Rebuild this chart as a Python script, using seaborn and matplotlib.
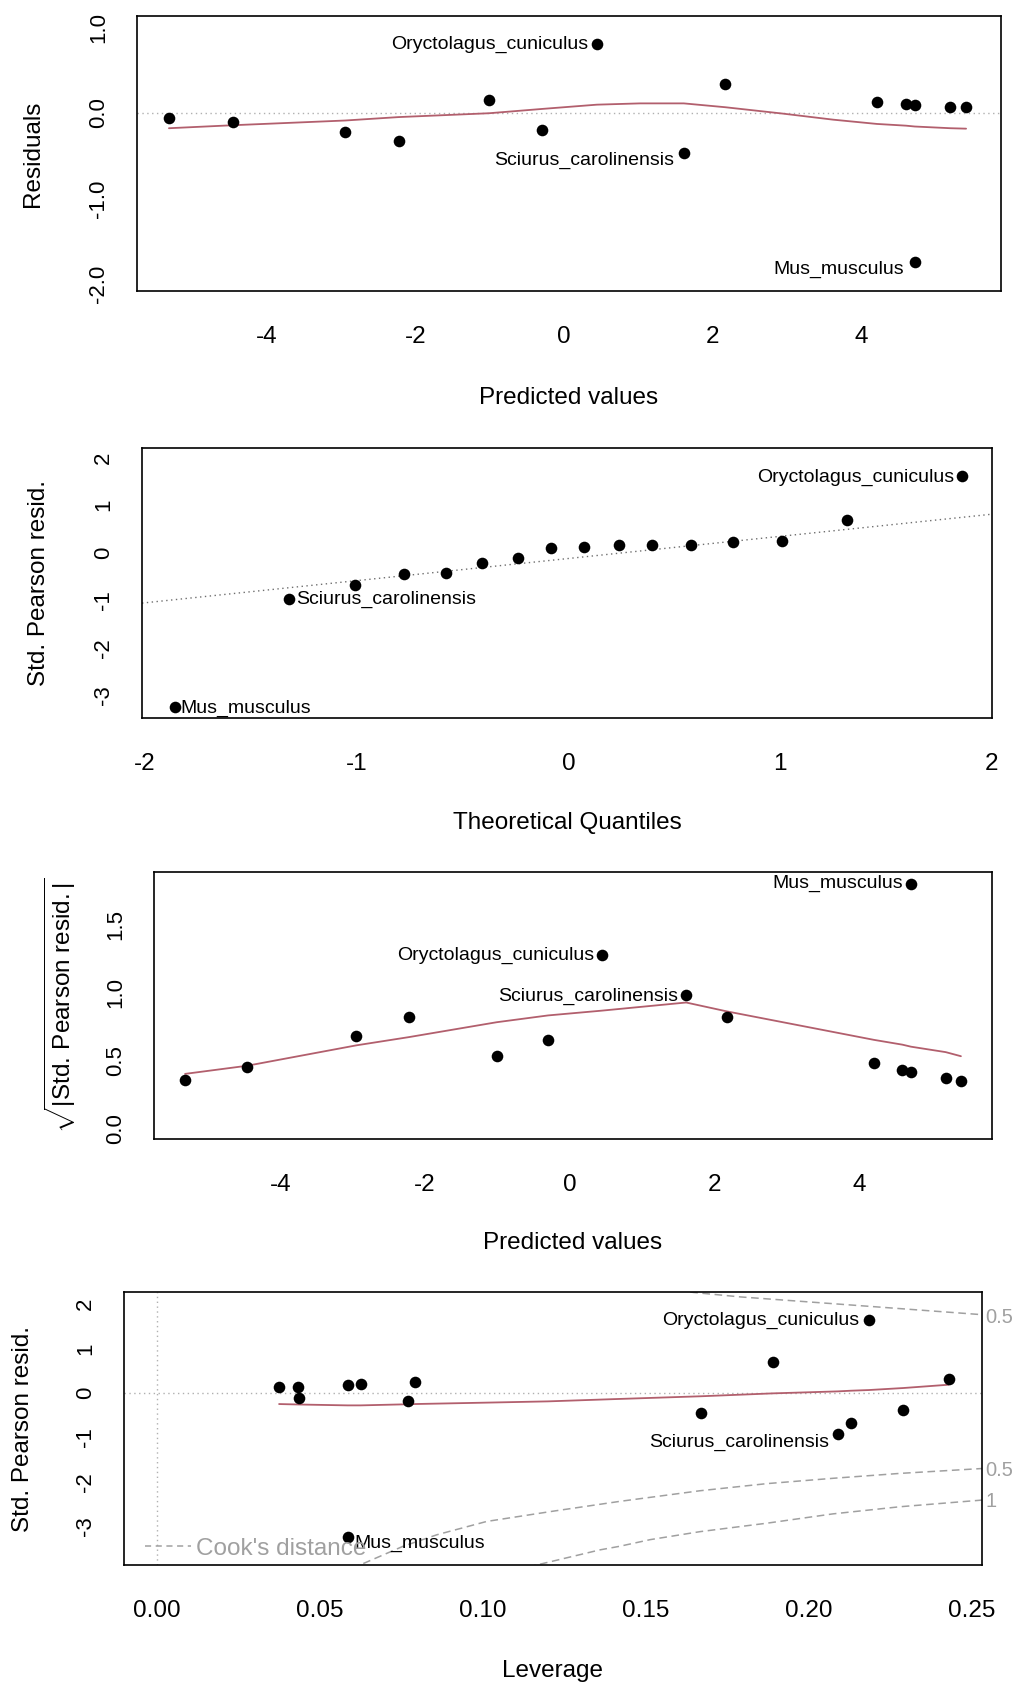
import matplotlib
matplotlib.use('Agg')
import matplotlib.pyplot as plt
import matplotlib.transforms as mtransforms
from matplotlib.lines import Line2D
import seaborn as sns

# ---- values ----
species = ['Oryctolagus_cuniculus', 'Sciurus_carolinensis', 'Mus_musculus']

# panel 1 / 3: residuals and scale-location against predicted values
predicted = [-5.32, -4.46, -2.95, -2.23, -1.01, -0.30, 0.44, 1.61, 2.17, 4.21, 4.60, 4.72, 4.72, 5.20, 5.41]
residuals = [-0.058, -0.109, -0.222, -0.331, 0.148, -0.204, 0.798, -0.475, 0.340, 0.122, 0.108, 0.086, -1.743, 0.068, 0.068]
sqrt_std_resid = [0.355, 0.453, 0.679, 0.821, 0.532, 0.647, 1.275, 0.980, 0.821, 0.478, 0.429, 0.414, 1.800, 0.370, 0.346]
pred_label_idx = [6, 7, 12]

smooth1_x = [-5.32, -4.46, -2.95, -2.23, -1.01, -0.30, 0.44, 1.02, 1.61, 2.17, 2.95, 3.62, 4.21, 4.60, 4.72, 5.20, 5.41]
smooth1_y = [-0.18, -0.145, -0.09, -0.05, -0.005, 0.045, 0.095, 0.11, 0.11, 0.065, -0.01, -0.08, -0.13, -0.15, -0.16, -0.18, -0.185]

smooth3_x = [-5.32, -4.46, -2.95, -2.23, -1.01, -0.30, 0.44, 1.61, 2.17, 4.21, 4.60, 4.72, 5.20, 5.41]
smooth3_y = [0.40, 0.46, 0.61, 0.67, 0.78, 0.83, 0.865, 0.925, 0.86, 0.65, 0.615, 0.60, 0.56, 0.53]

# panel 2: normal Q-Q
theoretical_q = [-1.861, -1.319, -1.010, -0.777, -0.580, -0.407, -0.240, -0.085, 0.075, 0.237, 0.394, 0.579, 0.776, 1.007, 1.313, 1.858]
sample_q = [-3.245, -0.965, -0.678, -0.448, -0.425, -0.224, -0.115, 0.105, 0.126, 0.156, 0.154, 0.154, 0.224, 0.252, 0.678, 1.608]
qq_label_idx = [15, 1, 0]
qq_line_x = [-2.0, 2.0]
qq_line_y = [-1.05, 0.81]

# panel 4: residuals vs leverage
leverage = [0.0376, 0.0434, 0.0438, 0.0586, 0.0626, 0.0770, 0.0792, 0.0588, 0.167, 0.189, 0.209, 0.213, 0.2185, 0.229, 0.243]
std_resid = [0.142, 0.142, -0.105, 0.172, 0.202, -0.172, 0.240, -3.230, -0.457, 0.689, -0.930, -0.667, 1.635, -0.386, 0.315]
lev_label_idx = [12, 10, 7]

smooth4_x = [0.0376, 0.0434, 0.0586, 0.0626, 0.077, 0.0792, 0.10, 0.12, 0.14, 0.167, 0.189, 0.209, 0.213, 0.2185, 0.229, 0.243]
smooth4_y = [-0.25, -0.26, -0.28, -0.28, -0.255, -0.25, -0.22, -0.19, -0.14, -0.075, -0.01, 0.035, 0.05, 0.065, 0.11, 0.185]

cook_up05_x = [0.160, 0.1647, 0.179, 0.1995, 0.220, 0.2403, 0.2532]
cook_up05_y = [2.31, 2.26, 2.16, 2.05, 1.94, 1.83, 1.76]
cook_lo05_x = [0.060, 0.0624, 0.0756, 0.086, 0.1013, 0.1216, 0.142, 0.1667, 0.1872, 0.2075, 0.228, 0.2532]
cook_lo05_y = [-3.95, -3.87, -3.45, -3.19, -2.89, -2.66, -2.44, -2.20, -2.04, -1.92, -1.81, -1.70]
cook_lo1_x = [0.114, 0.1166, 0.136, 0.142, 0.1514, 0.1667, 0.1872, 0.2075, 0.228, 0.2532]
cook_lo1_y = [-3.92, -3.87, -3.53, -3.45, -3.30, -3.12, -2.93, -2.72, -2.56, -2.41]
cook_level_text = ['0.5', '0.5', '1']
cook_level_y = [1.70, -1.75, -2.44]

# ---- style ----
sns.set_style('white')
plt.rcParams['font.family'] = ['Liberation Sans', 'DejaVu Sans']
plt.rcParams['mathtext.fontset'] = 'custom'
plt.rcParams['mathtext.rm'] = 'Liberation Sans'
plt.rcParams['mathtext.it'] = 'Liberation Sans:italic'
plt.rcParams['text.color'] = 'black'
plt.rcParams['axes.labelcolor'] = 'black'
plt.rcParams['xtick.color'] = 'black'
plt.rcParams['ytick.color'] = 'black'

W, H = 1017, 1697
SMOOTH = '#b25f6d'
DOT = '#b0b0b0'
COOK = '#a0a0a0'

fig = plt.figure(figsize=(W / 100, H / 100), dpi=100)
fig.patch.set_facecolor('white')


def make_axes(left, top, right, bottom):
    # box given in pixels of the 1017x1697 picture
    return fig.add_axes([left / W, 1 - bottom / H, (right - left) / W, (bottom - top) / H])


def style(ax, xlim, ylim, xticks, yticks, ylabels, xlabel, ylabel, ylab_x):
    ax.set_xlim(xlim)
    ax.set_ylim(ylim)
    ax.set_xticks(xticks)
    ax.set_xticklabels([f'{t:g}' if abs(t) > 1e-9 else '0' for t in xticks])
    ax.set_yticks(yticks)
    ax.set_yticklabels(ylabels)
    for s in ax.spines.values():
        s.set_visible(True)
        s.set_color('black')
        s.set_linewidth(1.2)
    ax.tick_params(axis='both', direction='out', length=10, width=1, color='black', labelcolor='black')
    ax.tick_params(axis='x', labelsize=17.5, pad=15)
    ax.tick_params(axis='y', labelsize=16, pad=10, labelrotation=90)
    for lab in ax.get_yticklabels():
        lab.set_va('center')
    ax.set_xlabel(xlabel, fontsize=17.5, color='black')
    ax.set_ylabel(ylabel, fontsize=17.5, color='black')
    ax.xaxis.label.set_va('center')
    ax.yaxis.label.set_va('center')
    ax.xaxis.set_label_coords(0.5, -0.388)
    ax.yaxis.set_label_coords(ylab_x, 0.5)
    ax.grid(False)


def put_labels(ax, xs, ys, idx, sides, offsets):
    for name, i, side, (dx, dy) in zip(species, idx, sides, offsets):
        ax.annotate(name, (xs[i], ys[i]), xytext=(dx * 0.72, -dy * 0.72), textcoords='offset points',
                    ha='right' if side == 'L' else 'left', va='center', fontsize=14, color='black',
                    annotation_clip=False)


def dots(ax, x, y):
    sns.scatterplot(x=x, y=y, ax=ax, color='black', s=70, linewidth=0, zorder=3)


# ---- panel 1: residuals vs predicted ----
ax1 = make_axes(137, 16, 1001, 291)
ax1.axhline(0, color=DOT, lw=1, ls=(0, (1, 2.5)))
sns.lineplot(x=smooth1_x, y=smooth1_y, ax=ax1, sort=False, estimator=None, color=SMOOTH, lw=1.3)
dots(ax1, predicted, residuals)
style(ax1, (-5.75, 5.88), (-2.08, 1.13), [-4, -2, 0, 2, 4],
      [-2.0, -1.5, -1.0, -0.5, 0.0, 0.5, 1.0], ['-2.0', '', '-1.0', '', '0.0', '', '1.0'],
      'Predicted values', 'Residuals', -0.120)
put_labels(ax1, predicted, residuals, pred_label_idx, ['L', 'L', 'L'], [(-9, 0), (-10, 7), (-11, 7)])

# ---- panel 2: normal Q-Q ----
ax2 = make_axes(142, 448, 992, 718)
ax2.axline((qq_line_x[0], qq_line_y[0]), (qq_line_x[1], qq_line_y[1]), color='#6e6e6e', lw=1, ls=(0, (1, 2.5)))
dots(ax2, theoretical_q, sample_q)
style(ax2, (-2.015, 2.0), (-3.47, 2.2), [-2, -1, 0, 1, 2],
      [-3, -2, -1, 0, 1, 2], ['-3', '-2', '-1', '0', '1', '2'],
      'Theoretical Quantiles', 'Std. Pearson resid.', -0.121)
put_labels(ax2, theoretical_q, sample_q, qq_label_idx, ['L', 'R', 'R'], [(-8, 1.5), (7, 1), (6, 1)])

# ---- panel 3: scale-location ----
ax3 = make_axes(154, 872, 992, 1139)
sns.lineplot(x=smooth3_x, y=smooth3_y, ax=ax3, sort=False, estimator=None, color=SMOOTH, lw=1.3)
dots(ax3, predicted, sqrt_std_resid)
style(ax3, (-5.75, 5.84), (-0.079, 1.885), [-4, -2, 0, 2, 4],
      [0.0, 0.5, 1.0, 1.5], ['0.0', '0.5', '1.0', '1.5'],
      'Predicted values', r'$\sqrt{|\mathrm{Std.\!\ Pearson\ resid.}|}$', -0.112)
put_labels(ax3, predicted, sqrt_std_resid, [6, 7, 12], ['L', 'L', 'L'], [(-7, 0.7), (-8, 1), (-8, 0)])

# ---- panel 4: residuals vs leverage ----
ax4 = make_axes(124, 1292, 982, 1565)
ax4.axhline(0, color=DOT, lw=1, ls=(0, (1, 2.5)))
ax4.axvline(0, color=DOT, lw=1, ls=(0, (1, 2.5)))
for cx, cy in [(cook_up05_x, cook_up05_y), (cook_lo05_x, cook_lo05_y), (cook_lo1_x, cook_lo1_y)]:
    sns.lineplot(x=cx, y=cy, ax=ax4, sort=False, estimator=None, color=COOK, lw=1.1, linestyle=(0, (5, 3)))
sns.lineplot(x=smooth4_x, y=smooth4_y, ax=ax4, sort=False, estimator=None, color=SMOOTH, lw=1.3)
dots(ax4, leverage, std_resid)
style(ax4, (-0.00997, 0.2532), (-3.87, 2.27), [0.0, 0.05, 0.10, 0.15, 0.20, 0.25],
      [-3, -2, -1, 0, 1, 2], ['-3', '-2', '-1', '0', '1', '2'],
      'Leverage', 'Std. Pearson resid.', -0.118)
ax4.set_xticklabels(['0.00', '0.05', '0.10', '0.15', '0.20', '0.25'])
put_labels(ax4, leverage, std_resid, lev_label_idx, ['L', 'L', 'R'], [(-10, 0.5), (-9, 8), (6, 7)])

trans = mtransforms.blended_transform_factory(ax4.transAxes, ax4.transData)
for txt, yv in zip(cook_level_text, cook_level_y):
    ax4.text(1.004, yv, txt, transform=trans, ha='left', va='center', fontsize=14.5, color=COOK, clip_on=False)

cook_handle = Line2D([], [], color=COOK, lw=1.1, linestyle=(0, (4, 3)))
ax4.legend([cook_handle], ["Cook's distance"], loc='center left', bbox_to_anchor=(0.024, 0.06),
           frameon=False, borderaxespad=0, borderpad=0, handlelength=1.9, handletextpad=0.2,
           fontsize=17.5, labelcolor=COOK)

fig.savefig('out.png', dpi=100, facecolor='white')
